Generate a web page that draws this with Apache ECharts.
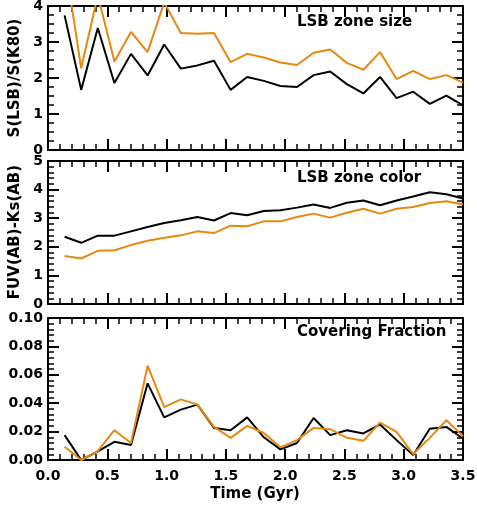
<!DOCTYPE html>
<html>
<head>
<meta charset="utf-8">
<script src="https://cdn.jsdelivr.net/npm/echarts@6/dist/echarts.min.js"></script>
<style>
  html, body { margin: 0; padding: 0; background: #fff; }
  #main { width: 477px; height: 505px; }
</style>
</head>
<body>
<div id="main"></div>
<script>
// time of each snapshot (Gyr)
const times = [0.14, 0.28, 0.42, 0.56, 0.70, 0.84, 0.98, 1.12, 1.26, 1.40, 1.54, 1.68, 1.82,
  1.96, 2.10, 2.24, 2.38, 2.52, 2.66, 2.80, 2.94, 3.08, 3.22, 3.36, 3.50];

// panel 1: LSB zone size
const sizeBlack = [3.74, 1.67, 3.39, 1.86, 2.67, 2.07, 2.93, 2.26, 2.35, 2.48, 1.67, 2.03, 1.92,
  1.78, 1.75, 2.08, 2.18, 1.83, 1.57, 2.03, 1.44, 1.62, 1.28, 1.51, 1.24];
const sizeOrange = [5.3, 2.27, 4.3, 2.46, 3.28, 2.72, 4.1, 3.25, 3.23, 3.25, 2.44, 2.67, 2.57,
  2.43, 2.36, 2.70, 2.79, 2.42, 2.23, 2.72, 1.97, 2.20, 1.97, 2.08, 1.87];

// panel 2: LSB zone color
const colorBlack = [2.35, 2.14, 2.39, 2.39, 2.54, 2.69, 2.83, 2.93, 3.04, 2.92, 3.18, 3.10, 3.25,
  3.28, 3.37, 3.48, 3.36, 3.54, 3.62, 3.45, 3.62, 3.76, 3.91, 3.84, 3.69];
const colorOrange = [1.68, 1.59, 1.86, 1.88, 2.06, 2.21, 2.32, 2.40, 2.54, 2.48, 2.74, 2.72, 2.89,
  2.89, 3.04, 3.16, 3.02, 3.19, 3.33, 3.16, 3.33, 3.39, 3.53, 3.59, 3.48];

// panel 3: covering fraction
const covBlack = [0.0175, 0.0, 0.006, 0.0128, 0.0105, 0.054, 0.030, 0.0355, 0.039, 0.0226, 0.021,
  0.030, 0.016, 0.0075, 0.012, 0.0296, 0.0175, 0.021, 0.0187, 0.025, 0.014, 0.0035, 0.022, 0.0233, 0.015];
const covOrange = [0.0093, 0.0, 0.0063, 0.021, 0.012, 0.0664, 0.0373, 0.0427, 0.039, 0.0233, 0.0156,
  0.024, 0.019, 0.0089, 0.014, 0.0226, 0.0217, 0.0156, 0.0135, 0.0264, 0.0198, 0.0042, 0.0156, 0.028, 0.0168];

const panelTitles = ['LSB zone size', 'LSB zone color', 'Covering Fraction'];
const yNames = ['S(LSB)/S(K80)', 'FUV(AB)-Ks(AB)'];
const xName = 'Time (Gyr)';
// min, max, major interval, minor divisions
const yRanges = [[0, 4, 1, 4], [0, 5, 1, 5], [0, 0.1, 0.02, 5]];

const FONT = 'DejaVu Sans';
const ORANGE = '#e5890f';

// top labels poke out of the canvas like in the original, so keep the grid from auto-shrinking
const grids = [
  { left: 48, right: 14, top: 6, height: 144, containLabel: false, outerBoundsMode: 'none' },
  { left: 48, right: 14, top: 161, height: 143, containLabel: false, outerBoundsMode: 'none' },
  { left: 48, right: 14, top: 318, height: 142, containLabel: false, outerBoundsMode: 'none' }
];

function baseAxis(extra) {
  return Object.assign({
    type: 'value',
    axisLine: { show: true, onZero: false, lineStyle: { color: '#000', width: 2 } },
    axisTick: { show: true, inside: true, length: 11, lineStyle: { color: '#000', width: 2 } },
    minorTick: { show: true, length: 6, lineStyle: { color: '#000', width: 1.5 } },
    splitLine: { show: false },
    axisLabel: { show: false }
  }, extra);
}

const tickLabel = { show: true, color: '#000', fontFamily: FONT, fontWeight: 'bold', fontSize: 14 };

const xAxes = [];
const yAxes = [];
grids.forEach((g, i) => {
  const minorX = { show: true, splitNumber: 5, length: 6, lineStyle: { color: '#000', width: 1.5 } };
  xAxes.push(baseAxis({
    gridIndex: i, position: 'bottom', min: 0, max: 3.5, interval: 0.5, minorTick: minorX,
    axisLabel: i === 2
      ? Object.assign({ margin: 9, formatter: v => v.toFixed(1) }, tickLabel)
      : { show: false }
  }));
  xAxes.push(baseAxis({
    gridIndex: i, position: 'top', min: 0, max: 3.5, interval: 0.5, minorTick: minorX
  }));
  const r = yRanges[i];
  const minorY = { show: true, splitNumber: r[3], length: 6, lineStyle: { color: '#000', width: 1.5 } };
  yAxes.push(baseAxis({
    gridIndex: i, position: 'left', min: r[0], max: r[1], interval: r[2], minorTick: minorY,
    axisLabel: Object.assign({
      margin: 5,
      formatter: v => (i === 2 ? v.toFixed(2) : String(Math.round(v)))
    }, tickLabel)
  }));
  yAxes.push(baseAxis({
    gridIndex: i, position: 'right', min: r[0], max: r[1], interval: r[2], minorTick: minorY
  }));
});

function lineSeries(panel, arr, color) {
  return {
    type: 'line', xAxisIndex: panel * 2, yAxisIndex: panel * 2,
    data: times.map((t, k) => [t, arr[k]]), symbol: 'none',
    lineStyle: { color: color, width: 2 }
  };
}

const series = [
  lineSeries(0, sizeBlack, '#000'), lineSeries(0, sizeOrange, ORANGE),
  lineSeries(1, colorBlack, '#000'), lineSeries(1, colorOrange, ORANGE),
  lineSeries(2, covBlack, '#000'), lineSeries(2, covOrange, ORANGE)
];

const titleTops = [15, 171, 325];
const titles = panelTitles.map((t, i) => ({
  text: t, left: 297, top: titleTops[i], padding: 0,
  textStyle: { color: '#000', fontFamily: FONT, fontWeight: 'bold', fontSize: 15 }
}));

// axis names drawn as plain text labels
const nameFont = 'bold 15px "' + FONT + '"';
const graphics = [
  { type: 'text', x: 15, y: 78, rotation: Math.PI / 2,
    style: { text: yNames[0], font: nameFont, fill: '#000', align: 'center', verticalAlign: 'middle' } },
  { type: 'text', x: 15, y: 232, rotation: Math.PI / 2,
    style: { text: yNames[1], font: nameFont, fill: '#000', align: 'center', verticalAlign: 'middle' } },
  { type: 'text', x: 255, y: 494,
    style: { text: xName, font: nameFont, fill: '#000', align: 'center', verticalAlign: 'middle' } }
];

const chart = echarts.init(document.getElementById('main'));
chart.setOption({
  animation: false,
  title: titles,
  grid: grids,
  xAxis: xAxes,
  yAxis: yAxes,
  series: series,
  graphic: graphics
});
</script>
</body>
</html>
